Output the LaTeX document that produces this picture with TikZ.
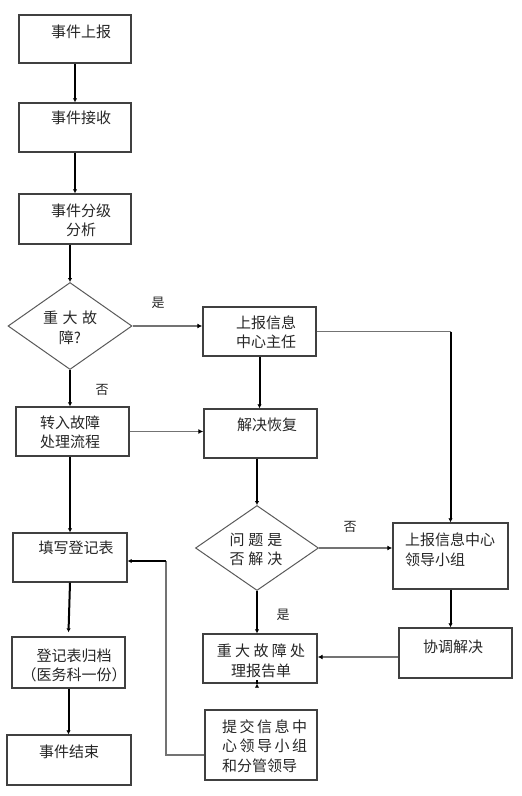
\documentclass[tikz,border=0pt]{standalone}
\usepackage{fontspec}
\setmainfont{Noto Sans CJK SC}
\usetikzlibrary{shapes.geometric,fit,arrows.meta}
\tikzset{
  box/.style={draw=black!75,line width=1.4pt,rectangle,inner sep=0pt},
  diam/.style={draw=black!65,line width=1pt,diamond,inner sep=0pt},
  txt/.style={inner sep=0pt,align=center,font=\fontsize{15}{19.5}\selectfont,text=black!85},
  lbl/.style={inner sep=0pt,font=\fontsize{13}{15}\selectfont,text=black!85},
  arr/.style={draw=black,line width=2pt,-{Latex[length=4pt,width=4.5pt]}},
  harr/.style={draw=black!55,line width=1.5pt,-{Latex[length=5pt,width=5pt,color=black]}},
  gline/.style={draw=black!55,line width=1.5pt},
}
\begin{document}
\begin{tikzpicture}[x=1pt,y=-1pt]
\useasboundingbox (0,0) rectangle (522,796);
% boxes
\node[box,fit={(19,15)(131,63)}] (b1) {};
\node[box,fit={(19,103)(131,152)}] (b2) {};
\node[box,fit={(19,194)(131,244)}] (b3) {};
\node[diam,minimum width=124pt,minimum height=87pt] (d1) at (70,326) {};
\node[box,fit={(16,407)(129,456)}] (zh) {};
\node[box,fit={(203,307)(316,356)}] (zr) {};
\node[box,fit={(204,409)(317,458)}] (jj) {};
\node[diam,minimum width=123pt,minimum height=85pt] (d2) at (257,548) {};
\node[box,fit={(393,523)(508,589)}] (lz) {};
\node[box,fit={(399,628)(512,678)}] (xt) {};
\node[box,fit={(203,634)(317,683)}] (bg) {};
\node[box,fit={(205,710)(317,780)}] (tj) {};
\node[box,fit={(13,533)(127,582)}] (tb) {};
\node[box,fit={(12,637)(125,688)}] (gd) {};
\node[box,fit={(7,735)(131,785)}] (js) {};
% texts
\node[txt] (tb1) at (81,32) {事件上报};
\node[txt] (tb2) at (81,118) {事件接收};
\node[txt] (tb3) at (81,220.5) {事件分级\\分析};
\node[txt] (td1) at (70,328) {重\hspace{4.5pt}大\hspace{4.5pt}故\\障?};
\node[txt] (tzr) at (266,332) {上报信息\\中心主任};
\node[txt] (tjj) at (267,425) {解决恢复};
\node[txt] (tzh) at (70,432.5) {转入故障\\处理流程};
\node[txt] (td2) at (256,549.5) {问\hspace{4pt}题\hspace{4pt}是\\否\hspace{4pt}解\hspace{4pt}决};
\node[txt,align=left,anchor=west] (tlz) at (405,549.5) {上报信息中心\\领导小组};
\node[txt] (txt2) at (453,647) {协调解决};
\node[txt] (tbg) at (261,661) {重\hspace{3.3pt}大\hspace{3.3pt}故\hspace{3.3pt}障\hspace{3.3pt}处\\理报告单};
\node[txt,align=left,anchor=west] (ttj) at (222,746) {提\hspace{2.5pt}交\hspace{2.5pt}信\hspace{2.5pt}息\hspace{2.5pt}中\\心\hspace{2.5pt}领\hspace{2.5pt}导\hspace{2.5pt}小\hspace{2.5pt}组\\和分管领导};
\node[txt] (ttb) at (76,548) {填写登记表};
\node[txt] (tgd) at (74,665.5) {登记表归档\\（医务科一份）};
\node[txt] (tjs) at (69,752) {事件结束};
% labels
\node[lbl] (y1) at (158,303) {是};
\node[lbl] (n1) at (102,390) {否};
\node[lbl] (n2) at (350,527) {否};
\node[lbl] (y2) at (283,615) {是};
% connectors
\draw[arr] (b1) -- (b2);
\draw[arr] (b2) -- (b3);
\draw[arr] (b3.south -| d1.north) -- (d1.north);
\draw[harr] (d1.east) -- (d1.east -| zr.west);
\draw[arr] (d1.south) -- (d1.south |- zh.north);
\draw[harr] (zh.east) -- (zh.east -| jj.west);
\draw[arr] (zr.south) -- (zr.south |- jj.north);
\draw[gline] (zr.east) -- (zr.east -| lz.north);
\draw[arr] (zr.east -| lz.north) -- (lz.north);
\draw[arr] (jj.south -| d2.north) -- (d2.north);
\draw[harr] (d2.east) -- (d2.east -| lz.west);
\draw[arr] (d2.south) -- (d2.south |- bg.north);
\draw[arr] (lz.south) -- (lz.south |- xt.north);
\draw[harr] ([yshift=-4pt]xt.west) -- ([yshift=-4pt]xt.west -| bg.east);
\draw[arr] (bg.south -| d2.south) -- (bg.south -| d2.south |- tj.north);
\coordinate (c1) at (166,561);
\draw[gline] ([yshift=-10pt]tj.west) -| (c1);
\draw[arr] (c1) -- (c1 -| tb.east);
\draw[arr] (zh.south -| d1.south) -- (d1.south |- tb.north);
\draw[arr] (tb.south) -- ([yshift=4pt]gd.north);
\draw[arr] (gd.south) -- (gd.south |- js.north);
\end{tikzpicture}
\end{document}
